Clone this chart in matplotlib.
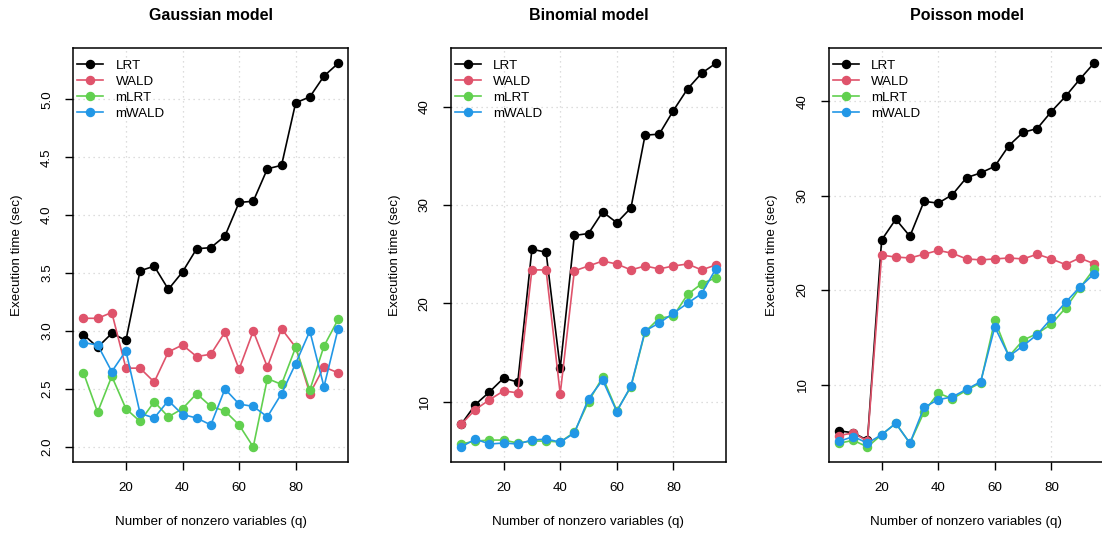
import matplotlib
matplotlib.use('Agg')
import matplotlib.pyplot as plt

plt.rcParams['font.family'] = ['Liberation Sans', 'DejaVu Sans']

q = [5, 10, 15, 20, 25, 30, 35, 40, 45, 50, 55, 60, 65, 70, 75, 80, 85, 90, 95]
methods = ['LRT', 'WALD', 'mLRT', 'mWALD']
colors = ['#000000', '#DF536B', '#61D04F', '#2297E6']
titles = ['Gaussian model', 'Binomial model', 'Poisson model']

# Gaussian
gauss_lrt = [2.97, 2.86, 2.98, 2.92, 3.52, 3.56, 3.36, 3.51, 3.71, 3.72, 3.82, 4.11, 4.12,
             4.40, 4.43, 4.97, 5.02, 5.20, 5.31]
gauss_wald = [3.11, 3.11, 3.16, 2.68, 2.68, 2.56, 2.82, 2.88, 2.78, 2.80, 2.99, 2.67, 3.00,
              2.69, 3.02, 2.86, 2.46, 2.69, 2.64]
gauss_mlrt = [2.64, 2.30, 2.61, 2.33, 2.22, 2.39, 2.26, 2.33, 2.46, 2.35, 2.31, 2.19, 2.00,
              2.59, 2.54, 2.86, 2.49, 2.87, 3.10]
gauss_mwald = [2.90, 2.88, 2.65, 2.83, 2.29, 2.25, 2.40, 2.28, 2.25, 2.19, 2.50, 2.37, 2.35,
               2.26, 2.46, 2.72, 3.00, 2.52, 3.02]

# Binomial
binom_lrt = [7.7, 9.7, 11.0, 12.4, 12.0, 25.5, 25.2, 13.4, 26.9, 27.1, 29.3, 28.2, 29.7,
             37.1, 37.2, 39.6, 41.8, 43.4, 44.4]
binom_wald = [7.7, 9.2, 10.2, 11.1, 10.9, 23.4, 23.4, 10.8, 23.3, 23.8, 24.3, 24.0, 23.4,
              23.8, 23.5, 23.8, 24.0, 23.4, 23.9]
binom_mlrt = [5.7, 6.0, 6.1, 6.1, 5.8, 6.0, 6.0, 5.9, 6.9, 10.0, 12.5, 9.1, 11.5,
              17.1, 18.5, 18.7, 20.9, 22.0, 22.6]
binom_mwald = [5.4, 6.2, 5.7, 5.8, 5.7, 6.1, 6.2, 5.9, 6.8, 10.3, 12.2, 9.0, 11.6,
               17.2, 18.0, 19.0, 20.0, 21.0, 23.5]

# Poisson
pois_lrt = [5.1, 4.9, 4.1, 25.3, 27.5, 25.7, 29.4, 29.2, 30.1, 31.9, 32.4, 33.1, 35.3,
            36.7, 37.1, 38.9, 40.5, 42.3, 44.0]
pois_wald = [4.6, 4.9, 4.0, 23.7, 23.5, 23.4, 23.8, 24.2, 23.9, 23.3, 23.2, 23.3, 23.4,
             23.3, 23.8, 23.3, 22.7, 23.4, 22.8]
pois_mlrt = [3.8, 4.1, 3.4, 4.7, 5.9, 3.8, 7.1, 9.1, 8.5, 9.4, 10.2, 16.8, 13.0,
             14.7, 15.4, 16.4, 18.1, 20.2, 22.2]
pois_mwald = [4.0, 4.5, 3.8, 4.7, 5.9, 3.8, 7.6, 8.4, 8.7, 9.5, 10.3, 16.1, 13.0,
              14.1, 15.3, 17.0, 18.7, 20.3, 21.7]

panels = [
    [gauss_lrt, gauss_wald, gauss_mlrt, gauss_mwald],
    [binom_lrt, binom_wald, binom_mlrt, binom_mwald],
    [pois_lrt, pois_wald, pois_mlrt, pois_mwald],
]
yticks = [[2.0, 2.5, 3.0, 3.5, 4.0, 4.5, 5.0], [10, 20, 30, 40], [10, 20, 30, 40]]

W, H = 1102, 535
fig = plt.figure(figsize=(W / 100, H / 100), dpi=100)

lefts = [73.3, 451.0, 829.0]
box_w, box_top, box_bot = 275.0, 48.0, 462.3
box_h = box_bot - box_top
fs = 9.6

for i in range(3):
    ax = fig.add_axes([lefts[i] / W, 1 - box_bot / H, box_w / W, box_h / H])
    series = panels[i]
    for vals, name, col in zip(series, methods, colors):
        ax.plot(q, vals, color=col, lw=1.2, marker='o', markersize=5.8, label=name)

    allv = [v for s in series for v in s]
    lo, hi = min(allv), max(allv)
    pad = 0.04 * (hi - lo)
    ax.set_ylim(lo - pad, hi + pad)
    ax.set_xlim(5 - 3.6, 95 + 3.6)

    ax.set_xticks([20, 40, 60, 80])
    ax.set_yticks(yticks[i])
    if i == 0:
        ax.set_yticklabels(['%.1f' % t for t in yticks[i]])
    ax.grid(True, color='#d3d3d3', linestyle=(0, (1, 3)), lw=0.9)
    ax.set_axisbelow(True)
    for s in ax.spines.values():
        s.set_linewidth(1.1)
    ax.tick_params(direction='out', length=5.5, width=1, labelsize=fs, pad=9)
    for lab in ax.get_yticklabels():
        lab.set_rotation(90)
        lab.set_va('center')

    ax.set_xlabel('Number of nonzero variables (q)', fontsize=fs)
    ax.xaxis.set_label_coords(0.5, -(521.7 - box_bot) / box_h)
    ax.xaxis.label.set_va('center')
    ax.set_ylabel('Execution time (sec)', fontsize=fs)
    ax.yaxis.set_label_coords(-56.5 / box_w, 0.5)
    ax.yaxis.label.set_va('center')

    ax.text(0.5, 1 + (box_top - 15) / box_h, titles[i], transform=ax.transAxes,
            ha='center', va='center', fontsize=11.5, fontweight='bold')

    ax.legend(loc='upper left', bbox_to_anchor=(3.5 / box_w, 1 - 11.5 / box_h),
              frameon=False, fontsize=fs, handlelength=2.0, handletextpad=0.9,
              labelspacing=0.27, borderaxespad=0, borderpad=0)

fig.savefig('out.png', dpi=100)
